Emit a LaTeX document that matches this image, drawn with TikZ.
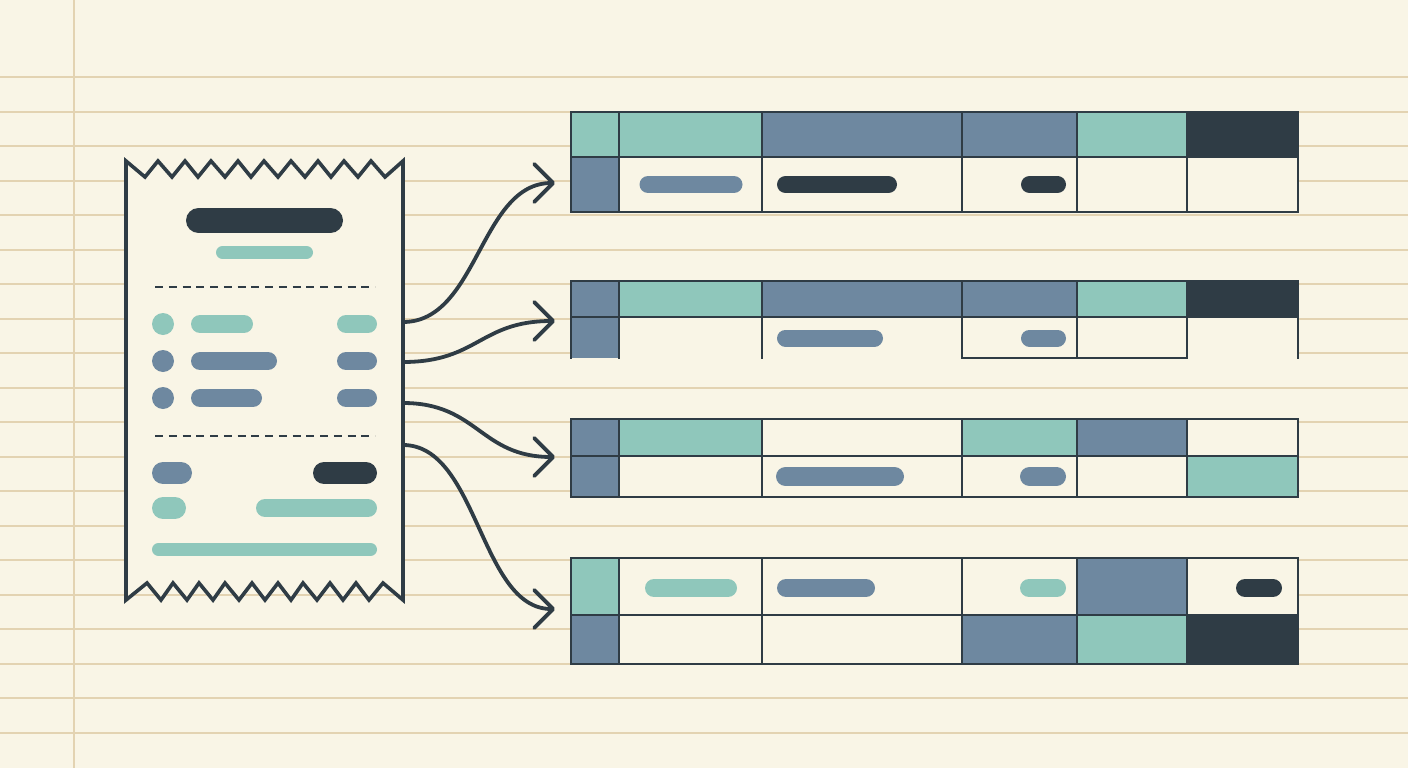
\documentclass[tikz,border=0pt]{standalone}
\usepackage{tikz}
\usetikzlibrary{arrows.meta}
\usepackage{xcolor}

\definecolor{paper}{HTML}{F9F5E6}
\definecolor{ruling}{HTML}{E3D3B2}
\definecolor{ink}{HTML}{2F3C45}
\definecolor{mint}{HTML}{8FC7BB}
\definecolor{slate}{HTML}{6E88A0}

\begin{document}
\begin{tikzpicture}[
      x=1pt, y=-1pt,
      rule/.style = {draw=ruling, line width=2pt},
      pill/.style = {line cap=round, line width=#1},
      frame/.style = {draw=ink, line width=2.8pt, line cap=rect},
      link/.style = {
        draw=ink, line width=3.8pt, line cap=round,
        -{Straight Barb[length=19pt, width=38pt, round]}
      }
    ]

    % paper and ruling
    \fill[paper] (0,0) rectangle (1408,768);
    \useasboundingbox (0,0) rectangle (1408,768);
    \foreach \k in {0,...,19}
      \draw[rule] (0,{77+34.5*\k}) -- (1408,{77+34.5*\k});
    \draw[rule] (74,0) -- (74,768);

    % torn receipt
    \filldraw[fill=paper, draw=ink, line width=3.6pt, line join=miter]
      (126,161) -- (126,600)
      -- (147,583) -- (161,600) -- (173,583) -- (187,600) -- (199,583)
      -- (213,600) -- (225,583) -- (239,600) -- (252,583) -- (265,600)
      -- (278,583) -- (291,600) -- (303,583) -- (317,600) -- (330,583)
      -- (343,600) -- (356,583) -- (369,600) -- (383,583) -- (403,600)
      -- (403,161)
      -- (385,177) -- (371,161) -- (358,177) -- (344,161) -- (331,177)
      -- (318,161) -- (305,177) -- (291,161) -- (278,177) -- (264,161)
      -- (251,177) -- (238,161) -- (225,177) -- (211,161) -- (198,177)
      -- (185,161) -- (172,177) -- (158,161) -- (145,177) -- cycle;

    \draw[pill=25pt, ink]  (198.5,220.5) -- (330.5,220.5);
    \draw[pill=13pt, mint] (222.5,252.5) -- (306.5,252.5);
    \draw[ink, line width=2.5pt, dash pattern=on 8pt off 5.75pt] (155,287) -- (375,287);

    \fill[mint] (163,324) circle (11);
    \draw[pill=18pt, mint] (200,324) -- (244,324);
    \draw[pill=18pt, mint] (346,324) -- (368,324);

    \fill[slate] (163,361) circle (11);
    \draw[pill=18pt, slate] (200,361) -- (268,361);
    \draw[pill=18pt, slate] (346,361) -- (368,361);

    \fill[slate] (163,398) circle (11);
    \draw[pill=18pt, slate] (200,398) -- (253,398);
    \draw[pill=18pt, slate] (346,398) -- (368,398);

    \draw[ink, line width=2.5pt, dash pattern=on 8pt off 5.75pt] (155,436) -- (375,436);

    \draw[pill=22pt, slate] (163,473) -- (181,473);
    \draw[pill=22pt, ink]   (324,473) -- (366,473);
    \draw[pill=22pt, mint]  (163,508) -- (175,508);
    \draw[pill=18pt, mint]  (265,508) -- (368,508);
    \draw[pill=13pt, mint]  (158.5,549.5) -- (370.5,549.5);

    % table 1
    \fill[paper] (571,112) rectangle (1298,212);
    \fill[mint]  (571,112) rectangle (762,157);
    \fill[slate] (762,112) rectangle (1077,157);
    \fill[mint]  (1077,112) rectangle (1187,157);
    \fill[ink]   (1187,112) rectangle (1298,157);
    \fill[slate] (571,157) rectangle (619,212);
    \draw[pill=17pt, slate] (648,184.5) -- (734,184.5);
    \draw[pill=17pt, ink]   (785.5,184.5) -- (888.5,184.5);
    \draw[pill=17pt, ink]   (1029.5,184.5) -- (1057.5,184.5);
    \draw[frame] (571,112) rectangle (1298,212);
    \draw[frame] (571,157) -- (1298,157);
    \foreach \c in {619,762,962,1077,1187}
      \draw[frame] (\c,112) -- (\c,212);

    % table 2
    \fill[paper] (571,281) rectangle (1298,358);
    \fill[slate] (571,281) rectangle (619,358);
    \fill[mint]  (619,281) rectangle (762,317);
    \fill[slate] (762,281) rectangle (1077,317);
    \fill[mint]  (1077,281) rectangle (1187,317);
    \fill[ink]   (1187,281) rectangle (1298,317);
    \draw[pill=17pt, slate] (785.5,338) -- (874.5,338);
    \draw[pill=17pt, slate] (1029.5,338) -- (1057.5,338);
    \draw[frame] (571,358) -- (571,281) -- (1298,281) -- (1298,358);
    \draw[frame] (571,317) -- (1298,317);
    \draw[frame] (962,358) -- (1187,358);
    \foreach \c in {619,762,962,1077,1187}
      \draw[frame] (\c,281) -- (\c,358);

    % table 3
    \fill[paper] (571,419) rectangle (1298,497);
    \fill[slate] (571,419) rectangle (619,497);
    \fill[mint]  (619,419) rectangle (762,456);
    \fill[mint]  (962,419) rectangle (1077,456);
    \fill[slate] (1077,419) rectangle (1187,456);
    \fill[mint]  (1187,456) rectangle (1298,497);
    \draw[pill=19pt, slate] (785.5,476.5) -- (894.5,476.5);
    \draw[pill=19pt, slate] (1029.5,476.5) -- (1056.5,476.5);
    \draw[frame] (571,419) rectangle (1298,497);
    \draw[frame] (571,456) -- (1298,456);
    \foreach \c in {619,762,962,1077,1187}
      \draw[frame] (\c,419) -- (\c,497);

    % table 4
    \fill[paper] (571,558) rectangle (1298,664);
    \fill[mint]  (571,558) rectangle (619,615);
    \fill[slate] (571,615) rectangle (619,664);
    \fill[slate] (1077,558) rectangle (1187,615);
    \fill[slate] (962,615) rectangle (1077,664);
    \fill[mint]  (1077,615) rectangle (1187,664);
    \fill[ink]   (1187,615) rectangle (1298,664);
    \draw[pill=18pt, mint]  (654,588) -- (728,588);
    \draw[pill=18pt, slate] (786,588) -- (866,588);
    \draw[pill=18pt, mint]  (1029,588) -- (1057,588);
    \draw[pill=18pt, ink]   (1245,588) -- (1273,588);
    \draw[frame] (571,558) rectangle (1298,664);
    \draw[frame] (571,615) -- (1298,615);
    \foreach \c in {619,762,962,1077,1187}
      \draw[frame] (\c,558) -- (\c,664);

    % links from receipt to rows
    \coordinate (Slip1) at (403,322);
    \coordinate (Slip2) at (403,362);
    \coordinate (Slip3) at (403,403);
    \coordinate (Slip4) at (403,445);
    \coordinate (Row1) at (555,183);
    \coordinate (Row2) at (555,321);
    \coordinate (Row3) at (555,457);
    \coordinate (Row4) at (555,609);

    \draw[link] (Slip1) .. controls +(75,0) and +(-75,0) .. (Row1);
    \draw[link] (Slip2) .. controls +(75,0) and +(-75,0) .. (Row2);
    \draw[link] (Slip3) .. controls +(75,0) and +(-75,0) .. (Row3);
    \draw[link] (Slip4) .. controls +(75,0) and +(-75,0) .. (Row4);

  \end{tikzpicture}
\end{document}
